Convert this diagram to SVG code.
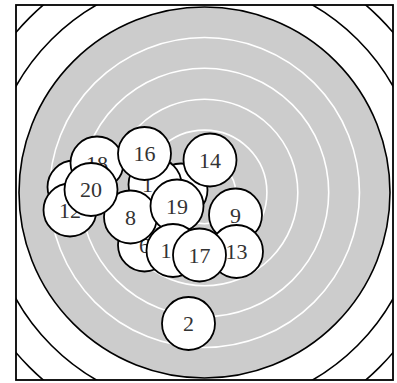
<svg xmlns="http://www.w3.org/2000/svg" width="397" height="383" viewBox="0 0 397 383">
<defs>
<style>
.ring{fill:none;stroke:#000;stroke-width:1.6}
.wring{fill:none;stroke:#fff;stroke-width:1.6}
.shot circle{fill:#fff;stroke:#000;stroke-width:1.8}
.shot text{font-family:"Liberation Serif","Times New Roman",serif;font-size:22px;fill:#333;text-anchor:middle}
</style>
<clipPath id="box"><rect x="16" y="5" width="377" height="375"/></clipPath>
</defs>
<rect x="0" y="0" width="397" height="383" fill="#fff"/>
<g id="target" clip-path="url(#box)">
<circle class="ring" cx="204.5" cy="192.5" r="247.3"/>
<circle class="ring" cx="204.5" cy="192.5" r="216.4"/>
<circle cx="204.5" cy="192.5" r="185.5" fill="#cccccc" stroke="#000" stroke-width="1.6"/>
<circle class="wring" cx="204.5" cy="192.5" r="155"/>
<circle class="wring" cx="204.5" cy="192.5" r="124.2"/>
<circle class="wring" cx="204.5" cy="192.5" r="93.3"/>
<circle class="wring" cx="204.5" cy="192.5" r="62.4"/>
<circle class="wring" cx="204.5" cy="192.5" r="31.2"/>
</g>
<rect x="16" y="5" width="377" height="375" fill="none" stroke="#000" stroke-width="1.8"/>
<g id="connectors"/>
<g id="shots">
<g id="shot-a" class="shot"><circle cx="74" cy="187" r="26.5"/></g>
<g id="shot-18" class="shot"><circle cx="97" cy="163" r="26.5"/><text x="97" y="170.5">18</text></g>
<g id="shot-12" class="shot"><circle cx="70" cy="210" r="26.5"/><text x="70" y="217.5">12</text></g>
<g id="shot-b" class="shot"><circle cx="181" cy="190" r="26.5"/></g>
<g id="shot-1u" class="shot"><circle cx="155" cy="184.5" r="26.5"/><text x="147.5" y="192">1</text></g>
<g id="shot-16" class="shot"><circle cx="144.5" cy="153.5" r="26.5"/><text x="144.5" y="161">16</text></g>
<g id="shot-6" class="shot"><circle cx="144.5" cy="245" r="26.5"/><text x="144.5" y="252.5">6</text></g>
<g id="shot-8" class="shot"><circle cx="130.5" cy="217" r="26.5"/><text x="130.5" y="224.5">8</text></g>
<g id="shot-20" class="shot"><circle cx="91" cy="189.5" r="26.5"/><text x="91" y="197">20</text></g>
<g id="shot-14" class="shot"><circle cx="210" cy="160" r="26.5"/><text x="210" y="167.5">14</text></g>
<g id="shot-19" class="shot"><circle cx="177" cy="206" r="26.5"/><text x="177" y="213.5">19</text></g>
<g id="shot-1l" class="shot"><circle cx="173" cy="250.5" r="26.5"/><text x="166" y="258">1</text></g>
<g id="shot-9" class="shot"><circle cx="235.5" cy="215" r="26.5"/><text x="235.5" y="222.5">9</text></g>
<g id="shot-13" class="shot"><circle cx="236.5" cy="251.5" r="26.5"/><text x="236.5" y="259">13</text></g>
<g id="shot-17" class="shot"><circle cx="199.5" cy="255" r="26.5"/><text x="199.5" y="262.5">17</text></g>
<g id="shot-2" class="shot"><circle cx="188.5" cy="323.5" r="26.5"/><text x="188.5" y="331">2</text></g>
</g>
</svg>
